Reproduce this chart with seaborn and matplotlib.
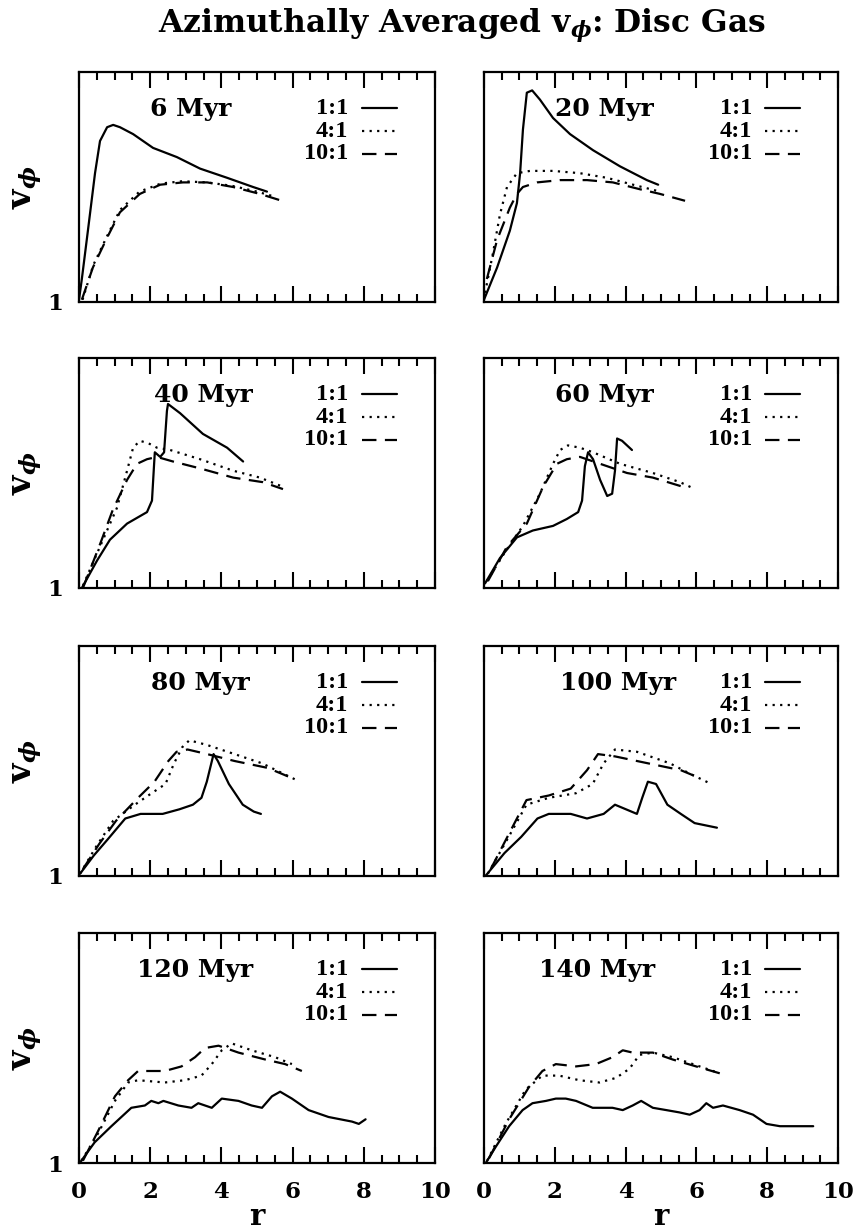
import matplotlib
matplotlib.use("Agg")
import matplotlib.pyplot as plt
import seaborn as sns
from matplotlib.ticker import FixedLocator, MultipleLocator
from matplotlib.transforms import blended_transform_factory

# ---------------------------------------------------------------- data
times = ["6 Myr", "20 Myr", "40 Myr", "60 Myr",
         "80 Myr", "100 Myr", "120 Myr", "140 Myr"]
ratios = ["1:1", "4:1", "10:1"]
x_ticks = [0, 2, 4, 6, 8, 10]
x_tick_labels = ["0", "2", "4", "6", "8", "10"]
y_ticks = [1]
y_tick_labels = ["1"]

# 6 Myr
r_006_a = [0.00, 0.08, 0.25, 0.45, 0.59, 0.79, 0.96, 1.15, 1.52, 2.08, 2.75, 3.40, 4.16, 4.89, 5.28]
v_006_a = [1.01, 1.10, 1.31, 1.56, 1.70, 1.76, 1.77, 1.76, 1.73, 1.67, 1.63, 1.58, 1.54, 1.50, 1.48]
r_006_b = [0.10, 0.40, 0.80, 1.15, 1.70, 2.30, 2.90, 3.60, 4.30, 5.00, 5.45]
v_006_b = [1.01, 1.16, 1.29, 1.40, 1.48, 1.515, 1.525, 1.52, 1.505, 1.48, 1.46]
r_006_c = [0.08, 0.39, 0.79, 1.15, 1.71, 2.28, 2.92, 3.60, 4.33, 5.08, 5.70]
v_006_c = [1.01, 1.15, 1.28, 1.39, 1.47, 1.51, 1.52, 1.52, 1.50, 1.47, 1.44]

# 20 Myr
r_020_a = [0.00, 0.37, 0.73, 0.93, 1.02, 1.10, 1.21, 1.36, 1.58, 1.95, 2.43, 3.08, 3.84, 4.60, 4.92]
v_020_a = [1.01, 1.15, 1.31, 1.43, 1.56, 1.75, 1.91, 1.92, 1.88, 1.80, 1.73, 1.66, 1.59, 1.53, 1.51]
r_020_b = [0.03, 0.25, 0.45, 0.65, 0.93, 1.30, 1.95, 2.71, 3.47, 4.21, 4.97]
v_020_b = [1.04, 1.21, 1.38, 1.50, 1.56, 1.57, 1.57, 1.56, 1.54, 1.51, 1.48]
r_020_c = [0.08, 0.37, 0.73, 0.93, 1.10, 1.50, 2.15, 2.91, 3.64, 4.41, 4.97, 5.68]
v_020_c = [1.10, 1.27, 1.41, 1.47, 1.50, 1.52, 1.53, 1.53, 1.52, 1.49, 1.47, 1.44]

# 40 Myr
r_040_a = [0.08, 0.51, 0.87, 1.35, 1.91, 2.05, 2.11, 2.13, 2.28, 2.39, 2.47, 2.50, 2.84, 3.48, 4.16, 4.61]
v_040_a = [1.00, 1.12, 1.21, 1.28, 1.33, 1.38, 1.54, 1.59, 1.57, 1.59, 1.77, 1.80, 1.76, 1.67, 1.61, 1.55]
r_040_b = [0.11, 0.59, 1.07, 1.35, 1.52, 1.71, 1.94, 2.19, 2.56, 3.40, 4.33, 5.08, 5.73]
v_040_b = [1.01, 1.18, 1.35, 1.51, 1.61, 1.64, 1.63, 1.61, 1.60, 1.56, 1.51, 1.48, 1.44]
r_040_c = [0.11, 0.59, 0.95, 1.35, 1.63, 1.91, 2.19, 2.64, 3.40, 4.33, 5.17, 5.73]
v_040_c = [1.00, 1.19, 1.34, 1.47, 1.54, 1.56, 1.57, 1.55, 1.52, 1.48, 1.46, 1.43]

# 60 Myr
r_060_a = [0.03, 0.45, 0.93, 1.38, 1.95, 2.34, 2.66, 2.77, 2.85, 2.94, 3.08, 3.28, 3.48, 3.62, 3.70, 3.76, 3.90, 4.18]
v_060_a = [1.02, 1.13, 1.22, 1.25, 1.27, 1.30, 1.33, 1.38, 1.53, 1.59, 1.56, 1.47, 1.40, 1.41, 1.51, 1.65, 1.64, 1.60]
r_060_b = [0.08, 0.65, 1.10, 1.58, 1.95, 2.15, 2.37, 2.71, 3.08, 3.84, 4.77, 5.54, 5.96]
v_060_b = [1.03, 1.17, 1.27, 1.41, 1.54, 1.60, 1.62, 1.61, 1.59, 1.54, 1.50, 1.46, 1.43]
r_060_c = [0.11, 0.65, 1.21, 1.67, 2.06, 2.34, 2.71, 3.28, 4.04, 4.77, 5.62]
v_060_c = [1.03, 1.18, 1.28, 1.44, 1.54, 1.56, 1.57, 1.54, 1.50, 1.48, 1.44]

# 80 Myr
r_080_a = [0.03, 0.42, 0.81, 1.30, 1.73, 2.35, 2.82, 3.20, 3.44, 3.59, 3.78, 3.90, 4.21, 4.60, 4.91, 5.11]
v_080_a = [1.01, 1.09, 1.16, 1.25, 1.27, 1.27, 1.29, 1.31, 1.34, 1.41, 1.53, 1.50, 1.40, 1.31, 1.28, 1.27]
r_080_b = [0.03, 0.49, 0.96, 1.57, 2.04, 2.43, 2.67, 2.90, 3.10, 3.59, 4.37, 5.14, 6.07]
v_080_b = [1.01, 1.13, 1.24, 1.31, 1.36, 1.40, 1.49, 1.56, 1.59, 1.57, 1.53, 1.49, 1.42]
r_080_c = [0.11, 0.57, 1.04, 1.66, 2.12, 2.51, 2.74, 3.05, 3.60, 4.37, 5.30, 6.07]
v_080_c = [1.03, 1.14, 1.24, 1.34, 1.41, 1.50, 1.54, 1.55, 1.53, 1.50, 1.47, 1.42]

# 100 Myr
r_100_a = [0.04, 0.58, 1.05, 1.51, 1.83, 2.45, 2.91, 3.38, 3.70, 4.01, 4.32, 4.47, 4.63, 4.86, 5.18, 5.56, 5.95, 6.58]
v_100_a = [1.00, 1.10, 1.17, 1.25, 1.27, 1.27, 1.25, 1.27, 1.31, 1.29, 1.27, 1.34, 1.41, 1.40, 1.31, 1.27, 1.23, 1.21]
r_100_b = [0.11, 0.66, 1.20, 1.83, 2.60, 3.07, 3.38, 3.70, 4.32, 5.25, 5.88, 6.42]
v_100_b = [1.01, 1.16, 1.31, 1.34, 1.36, 1.40, 1.49, 1.55, 1.54, 1.49, 1.44, 1.40]
r_100_c = [0.19, 0.66, 1.20, 1.83, 2.45, 2.91, 3.22, 3.70, 4.63, 5.56, 6.03]
v_100_c = [1.03, 1.17, 1.33, 1.35, 1.38, 1.46, 1.53, 1.52, 1.49, 1.46, 1.43]

# 120 Myr
r_120_a = [0.02, 0.44, 0.91, 1.47, 1.85, 2.03, 2.23, 2.37, 2.79, 3.16, 3.35, 3.73, 4.01, 4.48,
           4.85, 5.14, 5.42, 5.65, 5.98, 6.45, 7.01, 7.67, 7.86, 8.05]
v_120_a = [1.00, 1.09, 1.16, 1.24, 1.25, 1.27, 1.26, 1.27, 1.25, 1.24, 1.26, 1.24, 1.28, 1.27,
           1.25, 1.24, 1.29, 1.31, 1.28, 1.23, 1.20, 1.18, 1.17, 1.19]
r_120_b = [0.07, 0.54, 1.01, 1.38, 1.66, 2.41, 2.98, 3.44, 3.73, 4.01, 4.29, 4.85, 5.51, 5.98]
v_120_b = [1.01, 1.13, 1.27, 1.35, 1.36, 1.35, 1.36, 1.38, 1.43, 1.49, 1.52, 1.49, 1.46, 1.43]
r_120_c = [0.11, 0.54, 1.01, 1.38, 1.66, 2.03, 2.41, 2.88, 3.26, 3.54, 3.92, 4.48, 5.23, 5.79, 6.26]
v_120_c = [1.01, 1.14, 1.29, 1.36, 1.40, 1.40, 1.40, 1.42, 1.46, 1.50, 1.51, 1.48, 1.45, 1.43, 1.40]

# 140 Myr
r_140_a = [0.05, 0.33, 0.71, 1.09, 1.37, 1.75, 2.03, 2.31, 2.60, 3.07, 3.63, 3.92, 4.20, 4.44,
           4.77, 5.15, 5.52, 5.81, 6.09, 6.28, 6.47, 6.75, 7.22, 7.60, 7.98, 8.36, 8.92, 9.30]
v_140_a = [1.00, 1.07, 1.16, 1.23, 1.26, 1.27, 1.28, 1.28, 1.27, 1.24, 1.24, 1.23, 1.25, 1.27,
           1.24, 1.23, 1.22, 1.21, 1.23, 1.26, 1.24, 1.25, 1.23, 1.21, 1.17, 1.16, 1.16, 1.16]
r_140_b = [0.09, 0.61, 1.18, 1.65, 2.12, 2.69, 3.26, 3.73, 4.11, 4.39, 4.77, 5.33, 5.90, 6.66]
v_140_b = [1.01, 1.17, 1.32, 1.38, 1.38, 1.36, 1.35, 1.37, 1.41, 1.47, 1.48, 1.46, 1.43, 1.39]
r_140_c = [0.14, 0.71, 1.27, 1.65, 2.03, 2.60, 3.16, 3.63, 3.92, 4.20, 4.77, 5.33, 5.99, 6.66]
v_140_c = [1.02, 1.19, 1.33, 1.40, 1.43, 1.42, 1.43, 1.46, 1.49, 1.48, 1.48, 1.45, 1.42, 1.39]

series = [
    [(r_006_a, v_006_a), (r_006_b, v_006_b), (r_006_c, v_006_c)],
    [(r_020_a, v_020_a), (r_020_b, v_020_b), (r_020_c, v_020_c)],
    [(r_040_a, v_040_a), (r_040_b, v_040_b), (r_040_c, v_040_c)],
    [(r_060_a, v_060_a), (r_060_b, v_060_b), (r_060_c, v_060_c)],
    [(r_080_a, v_080_a), (r_080_b, v_080_b), (r_080_c, v_080_c)],
    [(r_100_a, v_100_a), (r_100_b, v_100_b), (r_100_c, v_100_c)],
    [(r_120_a, v_120_a), (r_120_b, v_120_b), (r_120_c, v_120_c)],
    [(r_140_a, v_140_a), (r_140_b, v_140_b), (r_140_c, v_140_c)],
]

# ---------------------------------------------------------------- layout / style
W, H = 856, 1232
LW = 1.6
line_styles = ["-", (0, (1.0, 2.4)), (0, (6.5, 3.8))]
col_left = [79 / W, 484 / W]
col_width = [356 / W, 354 / W]
row_bottom = [(H - 302) / H, (H - 588) / H, (H - 876) / H, (H - 1163) / H]
panel_h = 230 / H
time_label_r = [3.15, 3.40, 3.50, 3.40, 3.40, 3.80, 3.27, 3.20]
legend_rows = [0.842, 0.742, 0.645]

sns.set_theme(style="white")
plt.rcParams.update({
    "font.family": ["DejaVu Serif"],
    "font.weight": "bold",
    "mathtext.fontset": "dejavuserif",
    "text.color": "black",
    "axes.labelcolor": "black",
    "axes.linewidth": LW,
    "axes.edgecolor": "black",
    "xtick.color": "black",
    "ytick.color": "black",
    "xtick.labelcolor": "black",
    "ytick.labelcolor": "black",
    "axes.facecolor": "white",
    "figure.facecolor": "white",
})

fig = plt.figure(figsize=(W / 100, H / 100), dpi=100)

for i, label in enumerate(times):
    row, col = divmod(i, 2)
    ax = fig.add_axes([col_left[col], row_bottom[row], col_width[col], panel_h])

    for (r, v), ls in zip(series[i], line_styles):
        sns.lineplot(x=r, y=v, ax=ax, color="black", linewidth=LW, linestyle=ls,
                     estimator=None, sort=False, legend=False)

    ax.set_xlim(0, 10)
    ax.set_ylim(1, 2)
    ax.set_xlabel("")
    ax.set_ylabel("")

    ax.xaxis.set_major_locator(FixedLocator(x_ticks))
    ax.xaxis.set_minor_locator(MultipleLocator(0.5))
    ax.tick_params(axis="x", which="major", direction="in", length=11.5, width=1.5,
                   top=True, bottom=True, pad=13, labelsize=16.5)
    ax.tick_params(axis="x", which="minor", direction="in", length=5.5, width=1.5,
                   top=True, bottom=True)
    if row == 3:
        ax.set_xticklabels(x_tick_labels)
        ax.set_xlabel("r", fontsize=21, fontweight="bold", labelpad=-1)
    else:
        ax.tick_params(axis="x", labelbottom=False)

    ax.set_yticks(y_ticks)
    ax.tick_params(axis="y", which="both", length=0, pad=11.5, labelsize=16.5)
    if col == 0:
        ax.set_yticklabels(y_tick_labels)
    else:
        ax.tick_params(axis="y", labelleft=False)

    for s in ax.spines.values():
        s.set_visible(True)
        s.set_linewidth(LW)
        s.set_color("black")

    # panel time stamp
    tr = blended_transform_factory(ax.transData, ax.transAxes)
    ax.text(time_label_r[i], 0.838, label, transform=tr, ha="center", va="center",
            fontsize=18, fontweight="bold", family="DejaVu Serif")

    # line-style key
    for name, ls, y in zip(ratios, line_styles, legend_rows):
        ax.text(0.757, y, name, transform=ax.transAxes, ha="right", va="center",
                fontsize=17.5, fontweight="bold", family="Liberation Serif")
        ax.plot([0.795, 0.893], [y, y], transform=ax.transAxes, color="black",
                linewidth=LW, linestyle=ls)

    if col == 0:
        fig.text(27 / W, row_bottom[row] + panel_h / 2, r"v$_{\phi}$", rotation=90,
                 ha="center", va="center", fontsize=24, fontweight="bold")

fig.text(0.539, 1 - 26 / H, r"Azimuthally Averaged v$_{\phi}$: Disc Gas",
         ha="center", va="center", fontsize=22.5, fontweight="bold",
         family="DejaVu Serif")

fig.savefig("out.png", dpi=100)
